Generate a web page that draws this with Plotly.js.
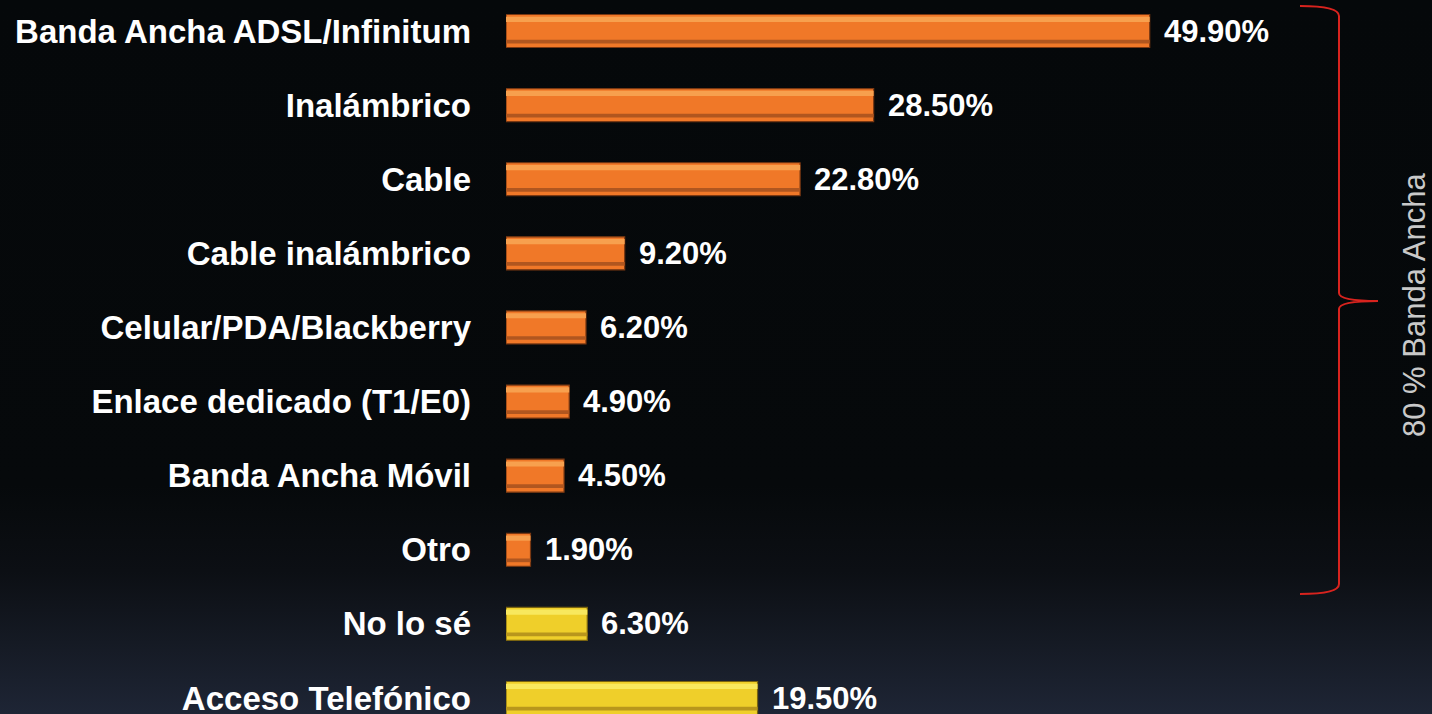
<!DOCTYPE html>
<html>
<head>
<meta charset="utf-8">
<script src="https://cdn.plot.ly/plotly-3.0.1.min.js"></script>
<style>
  html, body { margin:0; padding:0; width:1432px; height:714px; overflow:hidden;
    background: linear-gradient(to bottom, #05080a 0%, #06090b 68%, #0c0f14 80%, #151a24 90%, #1e2535 100%); }
  #chart { width:1432px; height:714px; }
</style>
</head>
<body>
<div id="chart"></div>
<script>
// ---- data ----
const categories = [
  "Banda Ancha ADSL/Infinitum",
  "Inalámbrico",
  "Cable",
  "Cable inalámbrico",
  "Celular/PDA/Blackberry",
  "Enlace dedicado (T1/E0)",
  "Banda Ancha Móvil",
  "Otro",
  "No lo sé",
  "Acceso Telefónico"
];
const values = [49.9, 28.5, 22.8, 9.2, 6.2, 4.9, 4.5, 1.9, 6.3, 19.5];
const groups = ["broadband","broadband","broadband","broadband","broadband","broadband","broadband","broadband","other","other"];
const braceLabel = "80 % Banda Ancha";

// ---- styles ----
const palette = {
  broadband: { main:"#F07828", light:"#F7A04E", dark:"#B0561F", line:"#7A3812" },
  other:     { main:"#EFCF2A", light:"#F8E85E", dark:"#B8961C", line:"#7A6410" }
};
const fontFam = "Liberation Sans, Arial, Helvetica, sans-serif";
const W = 0.445;

function layer(colorKey, offset, width, lineW) {
  return {
    type: "bar", orientation: "h",
    y: categories, x: values,
    width: categories.map(() => width),
    offset: categories.map(() => offset),
    marker: {
      color: groups.map(g => palette[g][colorKey]),
      line: { color: groups.map(g => palette[g].line), width: lineW }
    },
    hoverinfo: "skip", showlegend: false
  };
}

const traces = [
  layer("main", -W/2, W, 1.2),
  layer("light", -W/2 + 0.03, 0.07, 0),
  layer("dark", -W/2 + 0.34, 0.05, 0)
];

const pxLeft = 506, plotW = 1432 - pxLeft, H = 714;
const px2x = px => (px - pxLeft) / plotW;
const py2y = py => 1 - py / H;

const annotations = values.map((v, i) => ({
  x: v, y: categories[i], xref: "x", yref: "y",
  text: v.toFixed(2) + "%", showarrow: false,
  xanchor: "left", yanchor: "middle", xshift: 12,
  font: { family: fontFam, size: 31, color: "#ffffff", weight: "bold" }
}));
annotations.push({
  x: px2x(1414), y: py2y(305), xref: "paper", yref: "paper",
  text: braceLabel, textangle: -90, showarrow: false,
  xanchor: "center", yanchor: "middle",
  font: { family: fontFam, size: 31, color: "#c9c9c9" }
});

const bx0 = px2x(1300), bx1 = px2x(1339), bxt = px2x(1378);
const bracePath =
  `M ${bx0},${py2y(6)} Q ${bx1},${py2y(6)} ${bx1},${py2y(16)} ` +
  `L ${bx1},${py2y(293)} Q ${bx1},${py2y(301)} ${bxt},${py2y(301)} ` +
  `Q ${bx1},${py2y(301)} ${bx1},${py2y(309)} ` +
  `L ${bx1},${py2y(584)} Q ${bx1},${py2y(594)} ${bx0},${py2y(594)}`;

const layout = {
  width: 1432, height: 714,
  margin: { l: pxLeft, r: 0, t: 0, b: 0, pad: 0 },
  paper_bgcolor: "rgba(0,0,0,0)", plot_bgcolor: "rgba(0,0,0,0)",
  barmode: "overlay",
  xaxis: { range: [0, plotW / 12.9], visible: false, fixedrange: true },
  yaxis: {
    type: "category", categoryorder: "array", categoryarray: categories,
    range: [9 + 16/74.1, -31/74.1], autorange: false,
    showgrid: false, zeroline: false, showline: false, ticks: "",
    ticklabelstandoff: 34, automargin: false,
    tickfont: { family: fontFam, size: 33, color: "#ffffff", weight: "bold" }
  },
  shapes: [{
    type: "path", xref: "paper", yref: "paper", path: bracePath,
    line: { color: "#D8231E", width: 2 }
  }],
  annotations: annotations,
  showlegend: false
};

Plotly.newPlot("chart", traces, layout, { displayModeBar: false, staticPlot: true });
</script>
</body>
</html>
